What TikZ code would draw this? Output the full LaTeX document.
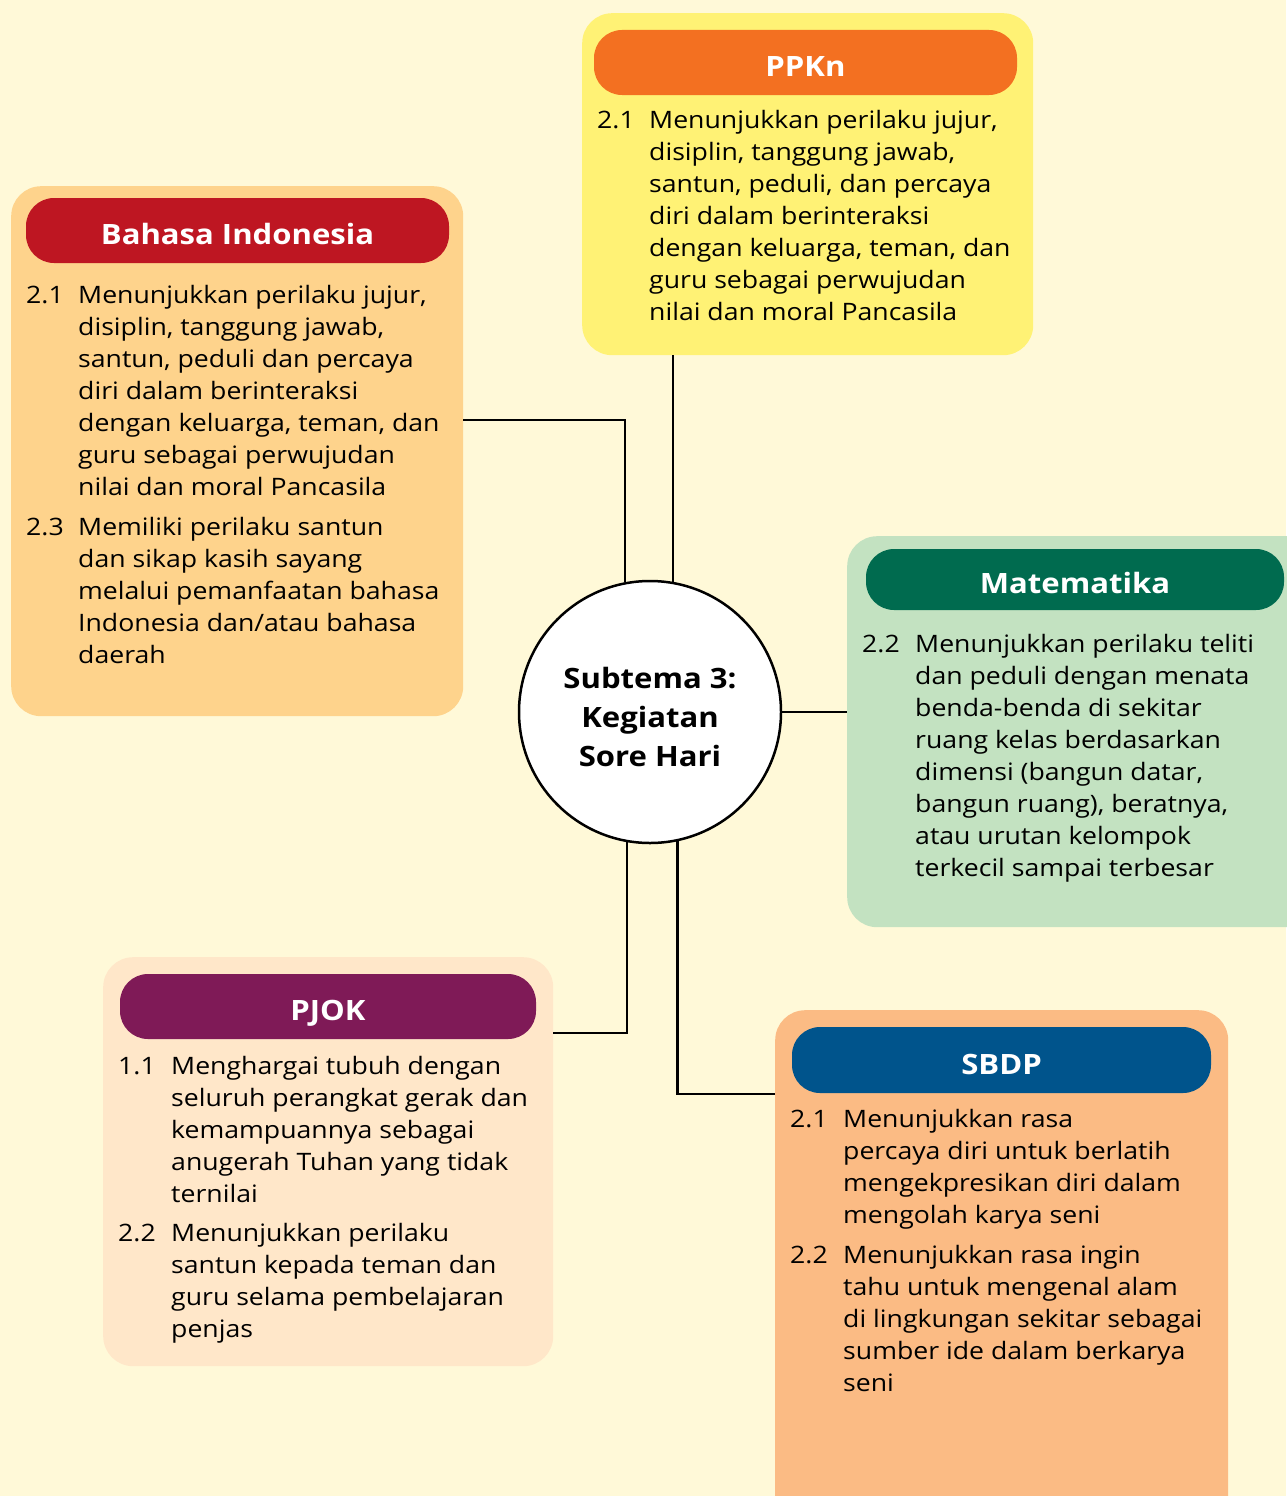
\documentclass[tikz,border=0pt]{standalone}
\usepackage{fontspec}
\setmainfont{Open Sans}[FakeStretch=1.11]
\usetikzlibrary{positioning}

\definecolor{pagebg}{HTML}{FFF9D8}
\definecolor{ppknfill}{HTML}{FFF275}
\definecolor{ppknhead}{HTML}{F37021}
\definecolor{bindofill}{HTML}{FED38C}
\definecolor{bindohead}{HTML}{BE1622}
\definecolor{matfill}{HTML}{C3E2C1}
\definecolor{mathead}{HTML}{006B4F}
\definecolor{pjokfill}{HTML}{FFE7C9}
\definecolor{pjokhead}{HTML}{7F1A57}
\definecolor{sbdpfill}{HTML}{FBBB84}
\definecolor{sbdphead}{HTML}{00548C}

\newcommand{\itemfont}{\fontsize{24}{32}\selectfont}

\begin{document}
\begin{tikzpicture}[x=1pt, y=-1pt,
    panel/.style={rectangle, rounded corners=30pt, anchor=north west, inner sep=0pt},
    headbar/.style={rectangle, rounded corners=28pt, inner sep=0pt, text=white,
                    text height=28pt, text depth=0pt,
                    font=\fontsize{28}{34}\selectfont\bfseries},
    num/.style={anchor=north west, inner sep=0pt, font=\itemfont},
    body/.style={anchor=north west, inner sep=0pt, align=left, font=\itemfont},
    hub/.style={circle, draw=black, line width=2.5pt, fill=white, minimum size=262pt},
    hubtext/.style={align=center, inner sep=0pt, font=\fontsize{28}{39}\selectfont\bfseries},
    link/.style={line width=2.5pt}
  ]
  \useasboundingbox (0,0) rectangle (1286,1496);
  \fill[pagebg] (0,0) rectangle (1286,1496);

  % panels
  \node[panel, fill=ppknfill, minimum width=451pt, minimum height=342pt] (ppkn) at (582,13) {};
  \node[panel, fill=bindofill, minimum width=452pt, minimum height=530pt] (bindo) at (11,186) {};
  \node[panel, fill=matfill, minimum width=470pt, minimum height=391pt] (mat) at (847,536) {};
  \node[panel, fill=pjokfill, minimum width=450pt, minimum height=409pt] (pjok) at (103,957) {};
  \node[panel, fill=sbdpfill, minimum width=453pt, minimum height=520pt] (sbdp) at (775,1010) {};

  % headers
  \node[headbar, fill=ppknhead, minimum width=423pt, minimum height=65pt] (ppknhd) at (805.5,62.5) {PPKn};
  \node[headbar, fill=bindohead, minimum width=423pt, minimum height=65pt] (bindohd) at (237.5,230.5) {Bahasa Indonesia};
  \node[headbar, fill=mathead, minimum width=418pt, minimum height=61pt] (mathd) at (1075,579.5) {Matematika};
  \node[headbar, fill=pjokhead, minimum width=416pt, minimum height=65pt] (pjokhd) at (328,1006.5) {PJOK};
  \node[headbar, fill=sbdphead, minimum width=419pt, minimum height=66pt] (sbdphd) at (1001.5,1060) {SBDP};

  % PPKn
  \node[num] (ppknn1) at (597,106) {\strut 2.1};
  \node[body] (ppknb1) at (649,106) {\strut Menunjukkan perilaku jujur,\\disiplin, tanggung jawab,\\
    santun, peduli, dan percaya\\diri dalam berinteraksi\\dengan keluarga, teman, dan\\
    guru sebagai perwujudan\\nilai dan moral Pancasila};

  % Bahasa Indonesia
  \node[num] (bindon1) at (26,281) {\strut 2.1};
  \node[body] (bindob1) at (78,281) {\strut Menunjukkan perilaku jujur,\\disiplin, tanggung jawab,\\
    santun, peduli dan percaya\\diri dalam berinteraksi\\dengan keluarga, teman, dan\\
    guru sebagai perwujudan\\nilai dan moral Pancasila};
  \node[num] (bindon2) at (26,513) {\strut 2.3};
  \node[body] (bindob2) at (78,513) {\strut Memiliki perilaku santun\\dan sikap kasih sayang\\
    melalui pemanfaatan bahasa\\Indonesia dan/atau bahasa\\daerah};

  % Matematika
  \node[num] (matn1) at (862,630) {\strut 2.2};
  \node[body] (matb1) at (915,630) {\strut Menunjukkan perilaku teliti\\dan peduli dengan menata\\
    benda-benda di sekitar\\ruang kelas berdasarkan\\dimensi (bangun datar,\\
    bangun ruang), beratnya,\\atau urutan kelompok\\terkecil sampai terbesar};

  % PJOK
  \node[num] (pjokn1) at (118,1052) {\strut 1.1};
  \node[body] (pjokb1) at (171,1052) {\strut Menghargai tubuh dengan\\seluruh perangkat gerak dan\\
    kemampuannya sebagai\\anugerah Tuhan yang tidak\\ternilai};
  \node[num] (pjokn2) at (118,1219) {\strut 2.2};
  \node[body] (pjokb2) at (171,1219) {\strut Menunjukkan perilaku\\santun kepada teman dan\\
    guru selama pembelajaran\\penjas};

  % SBDP
  \node[num] (sbdpn1) at (790,1105) {\strut 2.1};
  \node[body] (sbdpb1) at (843,1105) {\strut Menunjukkan rasa\\percaya diri untuk berlatih\\
    mengekpresikan diri dalam\\mengolah karya seni};
  \node[num] (sbdpn2) at (790,1241) {\strut 2.2};
  \node[body] (sbdpb2) at (843,1241) {\strut Menunjukkan rasa ingin\\tahu untuk mengenal alam\\
    di lingkungan sekitar sebagai\\sumber ide dalam berkarya\\seni};

  % centre
  \node[hub] (theme) at (650,712) {};
  \node[hubtext, yshift=-5pt] (themetext) at (theme.center) {Subtema 3:\\Kegiatan\\Sore Hari};

  % connectors
  \coordinate (bindoout) at (463,420);
  \coordinate (pjokout) at (553,1033);
  \coordinate (sbdpout) at (775,1094);
  \draw[link] (bindoout) -| (theme.101);
  \draw[link] (ppkn.south -| theme.80) -- (theme.80);
  \draw[link] (theme.east) -- (mat.west |- theme.east);
  \draw[link] (pjokout) -| (theme.260);
  \draw[link] (sbdpout) -| (theme.282);
\end{tikzpicture}
\end{document}
